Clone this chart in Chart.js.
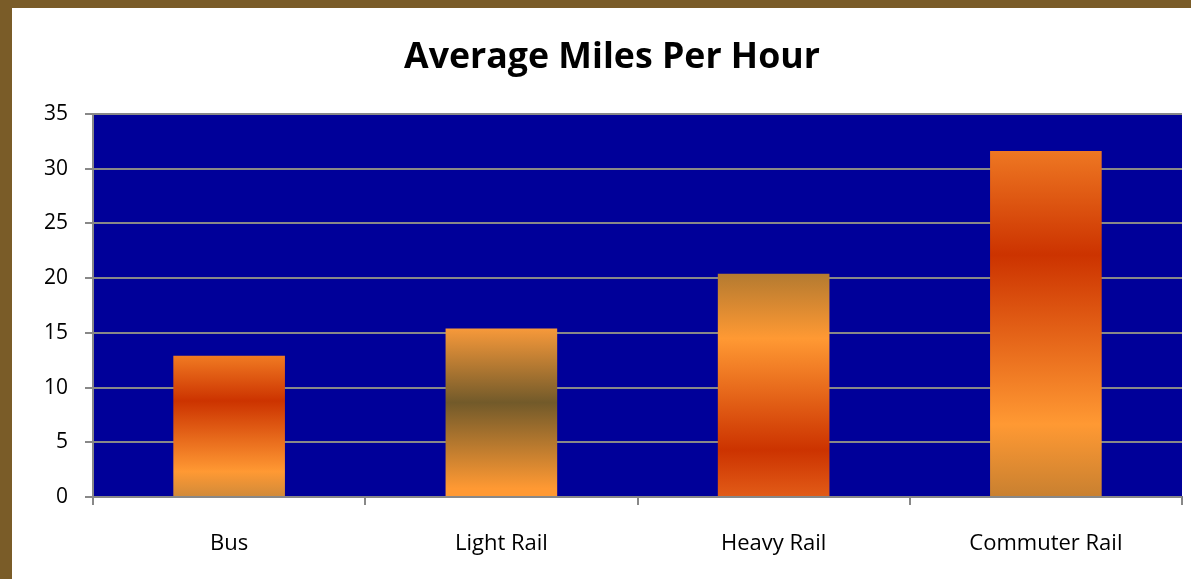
<!DOCTYPE html>
<html>
<head>
<meta charset="utf-8">
<script src="https://cdn.jsdelivr.net/npm/chart.js@4.4.1/dist/chart.umd.min.js"></script>
<style>
  html, body { margin: 0; padding: 0; }
  body { width: 1191px; height: 579px; background: #7a5c28; overflow: hidden; position: relative; }
  #panel { position: absolute; left: 12px; top: 8px; width: 1179px; height: 571px; background: #fff; }
</style>
</head>
<body>
<div id="panel"><canvas id="chart_1" width="1179" height="571"></canvas></div>
<script>
const categories = ["Bus", "Light Rail", "Heavy Rail", "Commuter Rail"];
const mph = [12.9, 15.4, 20.4, 31.6];
const yTicks = [0, 5, 10, 15, 20, 25, 30, 35];

// gradient stops for each bar, top -> bottom
const barFills = [
    [[0, "#f07a22"], [0.32, "#cc3300"], [0.82, "#ff9933"], [1, "#d08a3a"]],
    [[0, "#f7993a"], [0.44, "#725a2a"], [0.95, "#ff9933"], [1, "#ff9933"]],
    [[0, "#b47a30"], [0.29, "#ff9933"], [0.79, "#cc3300"], [1, "#e25c18"]],
    [[0, "#ee7722"], [0.3, "#cc3300"], [0.79, "#ff9933"], [1, "#c88030"]],
];

const FONT = "'Open Sans', 'Noto Sans', sans-serif";
const ctx1 = document.getElementById("chart_1").getContext("2d");

const plotBg = {
    id: "plotBg",
    beforeDraw(chart) {
        const a = chart.chartArea;
        const c = chart.ctx;
        c.save();
        c.fillStyle = "#000099";
        c.fillRect(a.left, a.top, a.right - a.left, a.bottom - a.top);
        c.restore();
    }
};

function barGradient(context) {
    const chart = context.chart;
    if (!chart.chartArea || !chart.scales.y) return "#ee7722";
    const y = chart.scales.y;
    const top = y.getPixelForValue(context.raw);
    const bottom = y.getPixelForValue(0);
    const g = chart.ctx.createLinearGradient(0, top, 0, bottom);
    barFills[context.dataIndex].forEach(s => g.addColorStop(s[0], s[1]));
    return g;
}

const chart1 = new Chart(ctx1, {
    type: "bar",
    data: {
        labels: categories,
        datasets: [{
            data: mph,
            backgroundColor: barGradient,
            borderWidth: 0,
            categoryPercentage: 1,
            barPercentage: 0.41,
        }]
    },
    options: {
        responsive: false,
        animation: false,
        layout: { padding: { left: 30, right: 9, top: 28, bottom: 0 } },
        plugins: {
            legend: { display: false },
            tooltip: { enabled: false },
            title: {
                display: true,
                text: "Average Miles Per Hour",
                color: "#000",
                font: { family: FONT, size: 35.7, weight: "bold" },
                padding: { top: 0, bottom: 35 },
            },
        },
        scales: {
            x: {
                grid: { offset: true, drawOnChartArea: false, color: "#888", lineWidth: 2, tickLength: 8 },
                border: { color: "#888", width: 2 },
                ticks: { color: "#000", font: { family: FONT, size: 22 }, padding: 26 },
                afterFit(scale) { scale.height = 82; },
            },
            y: {
                min: 0,
                max: 35,
                afterBuildTicks(scale) { scale.ticks = yTicks.map(v => ({ value: v })); },
                grid: { color: "#888", lineWidth: 2, tickLength: 8 },
                border: { color: "#888", width: 2 },
                ticks: { color: "#000", font: { family: FONT, size: 21 }, padding: 17 },
                afterFit(scale) { scale.width = 51; },
            },
        },
    },
    plugins: [plotBg],
});
</script>
</body>
</html>
